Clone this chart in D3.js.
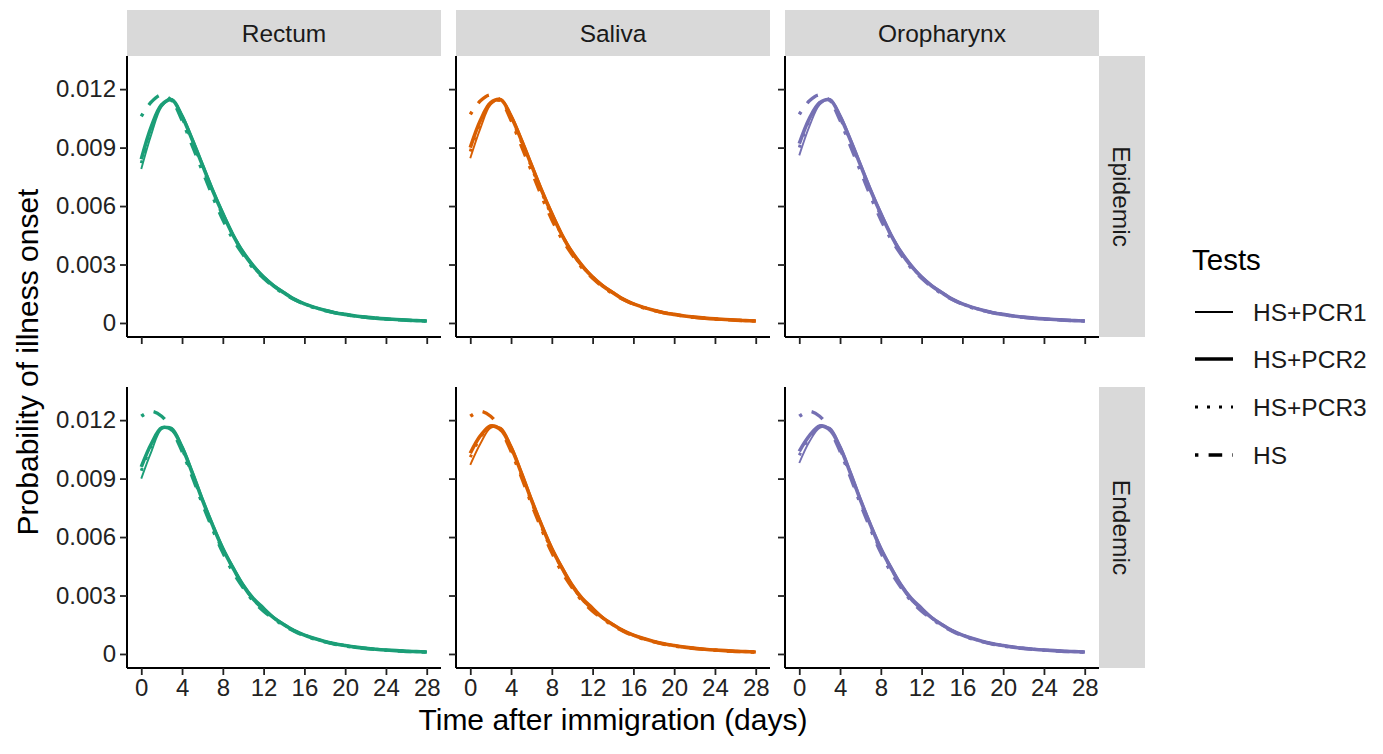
<!DOCTYPE html>
<html>
<head>
<meta charset="utf-8">
<script src="https://cdn.jsdelivr.net/npm/d3@7"></script>
<style>
  body { margin: 0; background: #fff; }
  svg { display: block; font-family: "Liberation Sans", Arial, sans-serif; }
</style>
</head>
<body>
<div id="chart"></div>
<script>
// days 0..28
const days = [0, 1, 2, 3, 4, 5, 6, 7, 8, 9, 10, 11, 12, 13, 14, 15, 16, 17, 18, 19, 20, 21, 22, 23, 24, 25, 26, 27, 28];

const sites = ["Rectum", "Saliva", "Oropharynx"];
const scenarios = ["Epidemic", "Endemic"];
const tests = ["HS+PCR1", "HS+PCR2", "HS+PCR3", "HS"];
const siteColors = ["#1b9e77", "#d95f02", "#7570b3"];
const yTicks = [0, 0.003, 0.006, 0.009, 0.012];
const xTicks = [0, 4, 8, 12, 16, 20, 24, 28];

// Epidemic
const epiRectumPCR1 = [0.0079, 0.0097, 0.0111, 0.01148, 0.0107, 0.0095, 0.0082, 0.0069, 0.0057, 0.0046, 0.0037, 0.0030, 0.0024, 0.00195, 0.0016, 0.00125, 0.0010, 0.00082, 0.00067, 0.00055, 0.00045, 0.00037, 0.00031, 0.00026, 0.00022, 0.00018, 0.00015, 0.00013, 0.00011];
const epiRectumPCR2 = [0.0084, 0.0101, 0.0112, 0.01145, 0.0106, 0.0094, 0.0081, 0.0068, 0.0056, 0.0045, 0.0036, 0.0029, 0.00235, 0.0019, 0.00155, 0.00122, 0.00098, 0.0008, 0.00065, 0.00053, 0.00044, 0.00036, 0.0003, 0.00025, 0.00021, 0.00018, 0.00015, 0.00012, 0.0001];
const epiRectumPCR3 = [0.0082, 0.0099, 0.0112, 0.0114, 0.0105, 0.0093, 0.0080, 0.0067, 0.0055, 0.0045, 0.0036, 0.0029, 0.00235, 0.0019, 0.00155, 0.00122, 0.00098, 0.0008, 0.00065, 0.00053, 0.00044, 0.00036, 0.0003, 0.00025, 0.00021, 0.00018, 0.00015, 0.00012, 0.0001];
const epiRectumHS = [0.0106, 0.01135, 0.0117, 0.0114, 0.0104, 0.0091, 0.0078, 0.0065, 0.0053, 0.0043, 0.0035, 0.0028, 0.0023, 0.00185, 0.0015, 0.0012, 0.00096, 0.00078, 0.00064, 0.00052, 0.00043, 0.00035, 0.00029, 0.00024, 0.0002, 0.00017, 0.00014, 0.00012, 0.0001];

const epiSalivaPCR1 = [0.00845, 0.0100, 0.0112, 0.0115, 0.0107, 0.0095, 0.0082, 0.0069, 0.0057, 0.0046, 0.0037, 0.0030, 0.0024, 0.00195, 0.0016, 0.00125, 0.0010, 0.00082, 0.00067, 0.00055, 0.00045, 0.00037, 0.00031, 0.00026, 0.00022, 0.00018, 0.00015, 0.00013, 0.00011];
const epiSalivaPCR2 = [0.0090, 0.0104, 0.0113, 0.01145, 0.0106, 0.0094, 0.0081, 0.0068, 0.0056, 0.0045, 0.0036, 0.0029, 0.00235, 0.0019, 0.00155, 0.00122, 0.00098, 0.0008, 0.00065, 0.00053, 0.00044, 0.00036, 0.0003, 0.00025, 0.00021, 0.00018, 0.00015, 0.00012, 0.0001];
const epiSalivaPCR3 = [0.0088, 0.0103, 0.0113, 0.0114, 0.0105, 0.0093, 0.0080, 0.0067, 0.0055, 0.0045, 0.0036, 0.0029, 0.00235, 0.0019, 0.00155, 0.00122, 0.00098, 0.0008, 0.00065, 0.00053, 0.00044, 0.00036, 0.0003, 0.00025, 0.00021, 0.00018, 0.00015, 0.00012, 0.0001];
const epiSalivaHS = [0.0107, 0.0114, 0.0117, 0.0114, 0.0104, 0.0091, 0.0078, 0.0065, 0.0053, 0.0043, 0.0035, 0.0028, 0.0023, 0.00185, 0.0015, 0.0012, 0.00096, 0.00078, 0.00064, 0.00052, 0.00043, 0.00035, 0.00029, 0.00024, 0.0002, 0.00017, 0.00014, 0.00012, 0.0001];

const epiOroPCR1 = [0.0086, 0.0101, 0.0112, 0.0115, 0.0107, 0.0095, 0.0082, 0.0069, 0.0057, 0.0046, 0.0037, 0.0030, 0.0024, 0.00195, 0.0016, 0.00125, 0.0010, 0.00082, 0.00067, 0.00055, 0.00045, 0.00037, 0.00031, 0.00026, 0.00022, 0.00018, 0.00015, 0.00013, 0.00011];
const epiOroPCR2 = [0.0092, 0.0105, 0.0113, 0.01145, 0.0106, 0.0094, 0.0081, 0.0068, 0.0056, 0.0045, 0.0036, 0.0029, 0.00235, 0.0019, 0.00155, 0.00122, 0.00098, 0.0008, 0.00065, 0.00053, 0.00044, 0.00036, 0.0003, 0.00025, 0.00021, 0.00018, 0.00015, 0.00012, 0.0001];
const epiOroPCR3 = [0.0090, 0.0104, 0.0113, 0.0114, 0.0105, 0.0093, 0.0080, 0.0067, 0.0055, 0.0045, 0.0036, 0.0029, 0.00235, 0.0019, 0.00155, 0.00122, 0.00098, 0.0008, 0.00065, 0.00053, 0.00044, 0.00036, 0.0003, 0.00025, 0.00021, 0.00018, 0.00015, 0.00012, 0.0001];
const epiOroHS = [0.0107, 0.0114, 0.0117, 0.0114, 0.0104, 0.0091, 0.0078, 0.0065, 0.0053, 0.0043, 0.0035, 0.0028, 0.0023, 0.00185, 0.0015, 0.0012, 0.00096, 0.00078, 0.00064, 0.00052, 0.00043, 0.00035, 0.00029, 0.00024, 0.0002, 0.00017, 0.00014, 0.00012, 0.0001];

// Endemic
const endRectumPCR1 = [0.0090, 0.0104, 0.01155, 0.0116, 0.0107, 0.0094, 0.0080, 0.0067, 0.0055, 0.0045, 0.0036, 0.0029, 0.0024, 0.0019, 0.00155, 0.00123, 0.00099, 0.00081, 0.00066, 0.00054, 0.00045, 0.00037, 0.00031, 0.00026, 0.00022, 0.00018, 0.00015, 0.00013, 0.00011];
const endRectumPCR2 = [0.0096, 0.0108, 0.0116, 0.0115, 0.0106, 0.0093, 0.0079, 0.0066, 0.0054, 0.0044, 0.0035, 0.0028, 0.0023, 0.00185, 0.0015, 0.0012, 0.00097, 0.00079, 0.00064, 0.00052, 0.00043, 0.00035, 0.00029, 0.00024, 0.0002, 0.00017, 0.00014, 0.00012, 0.0001];
const endRectumPCR3 = [0.0094, 0.0107, 0.0116, 0.0115, 0.0105, 0.0092, 0.0078, 0.0065, 0.0053, 0.0044, 0.0035, 0.0028, 0.0023, 0.00185, 0.0015, 0.0012, 0.00097, 0.00079, 0.00064, 0.00052, 0.00043, 0.00035, 0.00029, 0.00024, 0.0002, 0.00017, 0.00014, 0.00012, 0.0001];
const endRectumHS = [0.0122, 0.01245, 0.0122, 0.0115, 0.0104, 0.0091, 0.0077, 0.0064, 0.0052, 0.0042, 0.0034, 0.0027, 0.0022, 0.0018, 0.00145, 0.00117, 0.00094, 0.00076, 0.00062, 0.0005, 0.00041, 0.00034, 0.00028, 0.00023, 0.00019, 0.00016, 0.00013, 0.00011, 0.0001];

const endSalivaPCR1 = [0.0097, 0.0108, 0.0116, 0.0116, 0.0107, 0.0094, 0.0080, 0.0067, 0.0055, 0.0045, 0.0036, 0.0029, 0.0024, 0.0019, 0.00155, 0.00123, 0.00099, 0.00081, 0.00066, 0.00054, 0.00045, 0.00037, 0.00031, 0.00026, 0.00022, 0.00018, 0.00015, 0.00013, 0.00011];
const endSalivaPCR2 = [0.0103, 0.0112, 0.0117, 0.0115, 0.0106, 0.0093, 0.0079, 0.0066, 0.0054, 0.0044, 0.0035, 0.0028, 0.0023, 0.00185, 0.0015, 0.0012, 0.00097, 0.00079, 0.00064, 0.00052, 0.00043, 0.00035, 0.00029, 0.00024, 0.0002, 0.00017, 0.00014, 0.00012, 0.0001];
const endSalivaPCR3 = [0.0101, 0.0111, 0.0117, 0.0115, 0.0105, 0.0092, 0.0078, 0.0065, 0.0053, 0.0044, 0.0035, 0.0028, 0.0023, 0.00185, 0.0015, 0.0012, 0.00097, 0.00079, 0.00064, 0.00052, 0.00043, 0.00035, 0.00029, 0.00024, 0.0002, 0.00017, 0.00014, 0.00012, 0.0001];
const endSalivaHS = [0.0122, 0.01245, 0.0122, 0.0115, 0.0104, 0.0091, 0.0077, 0.0064, 0.0052, 0.0042, 0.0034, 0.0027, 0.0022, 0.0018, 0.00145, 0.00117, 0.00094, 0.00076, 0.00062, 0.0005, 0.00041, 0.00034, 0.00028, 0.00023, 0.00019, 0.00016, 0.00013, 0.00011, 0.0001];

const endOroPCR1 = [0.0098, 0.0109, 0.0116, 0.0116, 0.0107, 0.0094, 0.0080, 0.0067, 0.0055, 0.0045, 0.0036, 0.0029, 0.0024, 0.0019, 0.00155, 0.00123, 0.00099, 0.00081, 0.00066, 0.00054, 0.00045, 0.00037, 0.00031, 0.00026, 0.00022, 0.00018, 0.00015, 0.00013, 0.00011];
const endOroPCR2 = [0.0104, 0.0112, 0.0117, 0.0115, 0.0106, 0.0093, 0.0079, 0.0066, 0.0054, 0.0044, 0.0035, 0.0028, 0.0023, 0.00185, 0.0015, 0.0012, 0.00097, 0.00079, 0.00064, 0.00052, 0.00043, 0.00035, 0.00029, 0.00024, 0.0002, 0.00017, 0.00014, 0.00012, 0.0001];
const endOroPCR3 = [0.0102, 0.0111, 0.0117, 0.0115, 0.0105, 0.0092, 0.0078, 0.0065, 0.0053, 0.0044, 0.0035, 0.0028, 0.0023, 0.00185, 0.0015, 0.0012, 0.00097, 0.00079, 0.00064, 0.00052, 0.00043, 0.00035, 0.00029, 0.00024, 0.0002, 0.00017, 0.00014, 0.00012, 0.0001];
const endOroHS = [0.0122, 0.01245, 0.0122, 0.0115, 0.0104, 0.0091, 0.0077, 0.0064, 0.0052, 0.0042, 0.0034, 0.0027, 0.0022, 0.0018, 0.00145, 0.00117, 0.00094, 0.00076, 0.00062, 0.0005, 0.00041, 0.00034, 0.00028, 0.00023, 0.00019, 0.00016, 0.00013, 0.00011, 0.0001];

// panel table: rows = scenarios, cols = sites, series in order of tests
const panels = [
  { row: 0, col: 0, series: [epiRectumPCR1, epiRectumPCR2, epiRectumPCR3, epiRectumHS] },
  { row: 0, col: 1, series: [epiSalivaPCR1, epiSalivaPCR2, epiSalivaPCR3, epiSalivaHS] },
  { row: 0, col: 2, series: [epiOroPCR1, epiOroPCR2, epiOroPCR3, epiOroHS] },
  { row: 1, col: 0, series: [endRectumPCR1, endRectumPCR2, endRectumPCR3, endRectumHS] },
  { row: 1, col: 1, series: [endSalivaPCR1, endSalivaPCR2, endSalivaPCR3, endSalivaHS] },
  { row: 1, col: 2, series: [endOroPCR1, endOroPCR2, endOroPCR3, endOroHS] },
];

// line style per test (ggplot order: solid thin, solid thick, dotted, dotdash)
const lineStyles = [
  { width: 1.9, dash: null },
  { width: 3.6, dash: null },
  { width: 3, dash: "3 9" },
  { width: 3.4, dash: "3.4 10.2 13.6 10.2" },
];

const width = 1383, height = 754;
const panelW = 314, panelH = 281;
const colX = [127, 456, 785];
const rowY = [56, 387];
const stripH = 46;

const x = d3.scaleLinear().domain([-1.4, 29.4]).range([0, panelW]);
const y = d3.scaleLinear().domain([-0.00072, 0.0137]).range([panelH, 0]);
const fmtY = d => d === 0 ? "0" : d3.format(".3f")(d);

const svg = d3.select("#chart").append("svg")
  .attr("width", width)
  .attr("height", height);

const line = d3.line()
  .x((d, i) => x(days[i]))
  .y(d => y(d))
  .curve(d3.curveCatmullRom.alpha(0.5));

// top strips
sites.forEach((s, c) => {
  const g = svg.append("g").attr("transform", `translate(${colX[c]},${rowY[0] - stripH})`);
  g.append("rect").attr("width", panelW).attr("height", stripH).attr("fill", "#d9d9d9");
  g.append("text").attr("x", panelW / 2).attr("y", stripH / 2)
    .attr("dy", "0.35em").attr("text-anchor", "middle")
    .attr("font-size", 24.5).attr("fill", "#1a1a1a").text(s);
});

// right strips
scenarios.forEach((s, r) => {
  const g = svg.append("g").attr("transform", `translate(${colX[2] + panelW},${rowY[r]})`);
  g.append("rect").attr("width", stripH).attr("height", panelH).attr("fill", "#d9d9d9");
  g.append("text")
    .attr("transform", `translate(${stripH / 2},${panelH / 2}) rotate(90)`)
    .attr("dy", "0.35em").attr("text-anchor", "middle")
    .attr("font-size", 24.5).attr("fill", "#1a1a1a").text(s);
});

panels.forEach(p => {
  const g = svg.append("g").attr("transform", `translate(${colX[p.col]},${rowY[p.row]})`);

  p.series.forEach((vals, t) => {
    const st = lineStyles[t];
    g.append("path")
      .datum(vals)
      .attr("d", line)
      .attr("fill", "none")
      .attr("stroke", siteColors[p.col])
      .attr("stroke-width", st.width)
      .attr("stroke-dasharray", st.dash);
  });

  const xAxis = g.append("g").attr("transform", `translate(0,${panelH})`)
    .call(d3.axisBottom(x).tickValues(xTicks).tickSize(7).tickPadding(4)
      .tickFormat(p.row === 1 ? d3.format("d") : ""));
  const yAxis = g.append("g")
    .call(d3.axisLeft(y).tickValues(yTicks).tickSize(7).tickPadding(4)
      .tickFormat(p.col === 0 ? fmtY : ""));

  [xAxis, yAxis].forEach(a => {
    a.select(".domain").attr("stroke", "#000").attr("stroke-width", 2)
      .attr("d", a === xAxis ? `M0,0H${panelW}` : `M0,0V${panelH}`);
    a.selectAll(".tick line").attr("stroke", "#222").attr("stroke-width", 1.8);
    a.selectAll(".tick text").attr("font-size", 24).attr("fill", "#222")
      .attr("font-family", "Liberation Sans, Arial, sans-serif");
  });
});

// axis titles
svg.append("text")
  .attr("x", (colX[0] + colX[2] + panelW) / 2).attr("y", 730)
  .attr("text-anchor", "middle").attr("font-size", 30).attr("fill", "#000")
  .text("Time after immigration (days)");

svg.append("text")
  .attr("transform", `translate(38,${(rowY[0] + rowY[1] + panelH) / 2}) rotate(-90)`)
  .attr("text-anchor", "middle").attr("font-size", 30).attr("fill", "#000")
  .text("Probability of illness onset");

// legend
const legend = svg.append("g").attr("transform", "translate(1192,0)");
legend.append("text").attr("x", 0).attr("y", 270)
  .attr("font-size", 29.5).attr("fill", "#000").text("Tests");

const keyY = [312, 359, 407, 455];
tests.forEach((t, i) => {
  const st = lineStyles[i];
  legend.append("line")
    .attr("x1", 3).attr("x2", 41).attr("y1", keyY[i]).attr("y2", keyY[i])
    .attr("stroke", "#000")
    .attr("stroke-width", st.width)
    .attr("stroke-dasharray", st.dash);
  legend.append("text").attr("x", 61).attr("y", keyY[i]).attr("dy", "0.35em")
    .attr("font-size", 24.5).attr("fill", "#1a1a1a").text(t);
});
</script>
</body>
</html>
